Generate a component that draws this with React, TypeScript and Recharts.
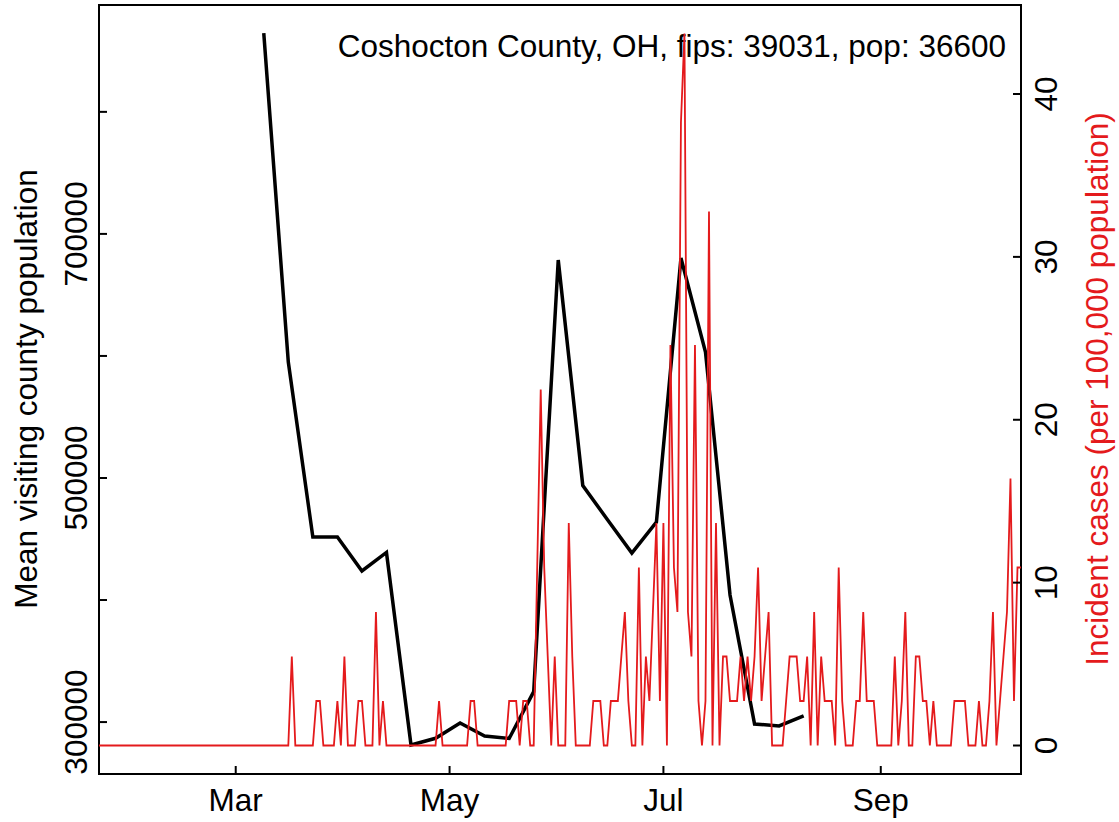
import { ComposedChart, Line, XAxis, YAxis, ReferenceArea, Customized } from "recharts";

// county info from the title
const countyTitle = "Coshocton County, OH, fips: 39031, pop: 36600";
const population = 36600;

// x axis: day of year 2020 (Jan 1 = 0)
const firstDay = 21; // Jan 22
const lastDay = 284;
const monthTicks = [60, 121, 182, 244];
const monthLabels = ["Mar", "May", "Jul", "Sep"];

// weekly mean visiting county population
const visitDays = [68, 75, 82, 89, 96, 103, 110, 117, 124, 131, 138, 145, 152, 159, 166, 173, 180, 187, 194, 201, 208, 215, 222];
const visitPop = [
  864600, 595000, 451600, 451600, 423800, 439000, 281200, 286700, 299200, 288600, 286600, 324900,
  678600, 493800, 466000, 438500, 463900, 680200, 603200, 404100, 298400, 296800, 305000,
];

// daily new cases (counts), one row per week starting Jan 22
const dailyCases = [
  0, 0, 0, 0, 0, 0, 0,
  0, 0, 0, 0, 0, 0, 0,
  0, 0, 0, 0, 0, 0, 0,
  0, 0, 0, 0, 0, 0, 0,
  0, 0, 0, 0, 0, 0, 0,
  0, 0, 0, 0, 0, 0, 0,
  0, 0, 0, 0, 0, 0, 0,
  0, 0, 0, 0, 0, 0, 2,
  0, 0, 0, 0, 0, 0, 1,
  1, 0, 0, 0, 0, 1, 0,
  2, 0, 0, 0, 1, 1, 0,
  0, 0, 3, 0, 1, 0, 0,
  0, 0, 0, 0, 0, 0, 0,
  0, 0, 0, 0, 0, 0, 1,
  0, 0, 0, 0, 0, 0, 0,
  0, 1, 1, 0, 0, 0, 0,
  0, 0, 0, 0, 0, 1, 1,
  1, 0, 1, 1, 0, 0, 4,
  8, 4, 2, 0, 2, 0, 0,
  0, 5, 2, 0, 0, 0, 0,
  0, 1, 1, 1, 0, 0, 1,
  1, 1, 2, 3, 1, 0, 0,
  4, 0, 2, 1, 3, 5, 1,
  5, 0, 9, 4, 3, 14, 16,
  3, 2, 9, 1, 0, 1, 12,
  0, 5, 0, 2, 2, 1, 1,
  1, 2, 1, 2, 1, 2, 4,
  1, 2, 3, 0, 0, 0, 0,
  1, 2, 2, 2, 1, 1, 2,
  0, 3, 0, 2, 1, 1, 1,
  0, 4, 1, 0, 0, 0, 1,
  1, 3, 1, 1, 1, 0, 0,
  0, 0, 0, 2, 0, 1, 3,
  0, 0, 2, 2, 1, 1, 0,
  1, 0, 0, 0, 0, 0, 1,
  1, 1, 1, 0, 0, 0, 1,
  0, 0, 1, 3, 0, 1, 2,
  3, 6, 1, 4, 4,
];

// axis ticks
const leftTicks = [300000, 400000, 500000, 600000, 700000, 800000];
const leftLabeled = [300000, 500000, 700000];
const rightTicks = [0, 10, 20, 30, 40];

const visitData = visitDays.map((d, i) => ({ day: d, pop: visitPop[i] }));
const caseData = dailyCases.map((c, i) => ({ day: firstDay + i, inc: (c * 100000) / population }));

const RED = "#E41A1C";
const FONT = "'Liberation Sans', Arial, Helvetica, sans-serif";
const FS = 31.5;

const LeftTick = (props: any) => {
  const { x, y, payload } = props;
  return (
    <g>
      <line x1={x} y1={y} x2={x + 8} y2={y} stroke="#000" strokeWidth={2} />
      {leftLabeled.includes(payload.value) && (
        <text x={87} y={y} transform={`rotate(-90 87 ${y})`} textAnchor="middle" fontSize={FS} fontFamily={FONT} fill="#000">
          {payload.value}
        </text>
      )}
    </g>
  );
};

const RightTick = (props: any) => {
  const { x, y, payload } = props;
  return (
    <g>
      <line x1={x} y1={y} x2={x - 8} y2={y} stroke="#000" strokeWidth={2} />
      <text x={x + 36} y={y} transform={`rotate(-90 ${x + 36} ${y})`} textAnchor="middle" fontSize={FS} fontFamily={FONT} fill="#000">
        {payload.value}
      </text>
    </g>
  );
};

const BottomTick = (props: any) => {
  const { x, y, payload } = props;
  const idx = monthTicks.indexOf(payload.value);
  return (
    <g>
      <line x1={x} y1={y} x2={x} y2={y - 8} stroke="#000" strokeWidth={2} />
      <text x={x} y={y + 37} textAnchor="middle" fontSize={FS} fontFamily={FONT} fill="#000">
        {monthLabels[idx]}
      </text>
    </g>
  );
};

const Titles = () => (
  <g>
    <text x={1006} y={57} textAnchor="end" fontSize={FS} fontFamily={FONT} fill="#000">
      {countyTitle}
    </text>
    <text x={37} y={389} transform="rotate(-90 37 389)" textAnchor="middle" fontSize={FS} fontFamily={FONT} fill="#000">
      Mean visiting county population
    </text>
    <text x={1108} y={389} transform="rotate(-90 1108 389)" textAnchor="middle" fontSize={FS} fontFamily={FONT} fill={RED}>
      Incident cases (per 100,000 population)
    </text>
  </g>
);

export default function App() {
  return (
    <div style={{ position: "absolute", left: 0, top: 0, width: 1119, height: 822, background: "#fff" }}>
      <ComposedChart width={1119} height={822} margin={{ top: 5, right: 0, bottom: 0, left: 0 }}>
        <XAxis
          type="number"
          dataKey="day"
          domain={[firstDay, lastDay]}
          ticks={monthTicks}
          interval={0}
          allowDataOverflow
          height={48}
          tickSize={0}
          tickMargin={0}
          axisLine={false}
          tickLine={false}
          tick={<BottomTick />}
        />
        <YAxis
          yAxisId="left"
          orientation="left"
          width={99}
          domain={[257450, 887560]}
          ticks={leftTicks}
          interval={0}
          allowDataOverflow
          tickSize={0}
          tickMargin={0}
          axisLine={false}
          tickLine={false}
          tick={<LeftTick />}
        />
        <YAxis
          yAxisId="right"
          orientation="right"
          width={98}
          domain={[-1.749, 45.465]}
          ticks={rightTicks}
          interval={0}
          allowDataOverflow
          tickSize={0}
          tickMargin={0}
          axisLine={false}
          tickLine={false}
          tick={<RightTick />}
        />
        <ReferenceArea
          yAxisId="left"
          x1={firstDay}
          x2={lastDay}
          y1={257450}
          y2={887560}
          fill="none"
          fillOpacity={0}
          stroke="#000"
          strokeWidth={2}
        />
        <Customized component={<Titles />} />
        <Line
          yAxisId="left"
          data={visitData}
          dataKey="pop"
          type="linear"
          stroke="#000"
          strokeWidth={3.5}
          dot={false}
          isAnimationActive={false}
        />
        <Line
          yAxisId="right"
          data={caseData}
          dataKey="inc"
          type="linear"
          stroke={RED}
          strokeWidth={1.8}
          dot={false}
          isAnimationActive={false}
        />
      </ComposedChart>
    </div>
  );
}
